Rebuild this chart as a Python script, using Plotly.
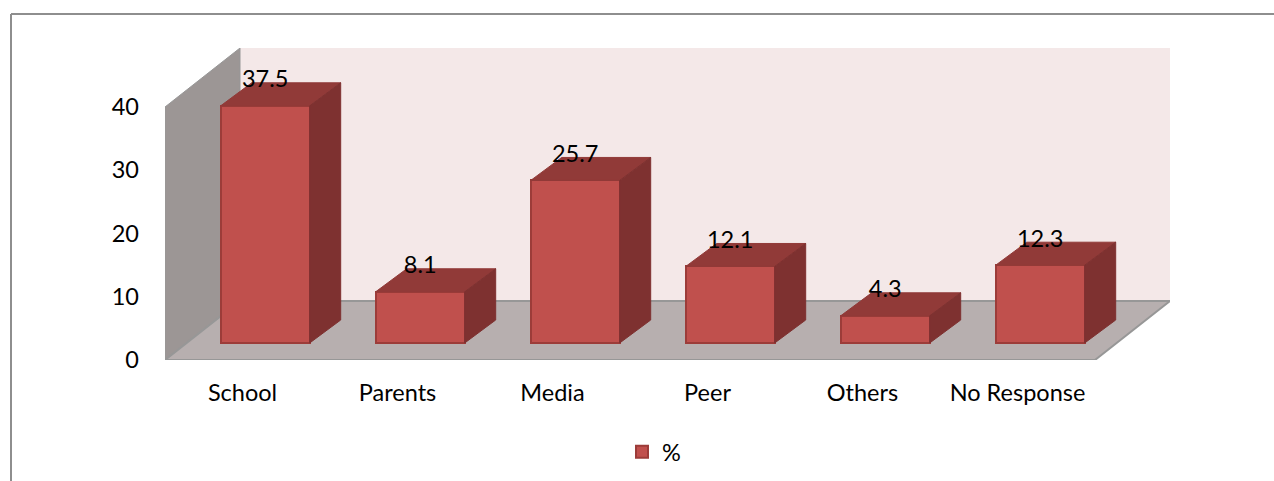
import plotly.graph_objects as go

categories = ["School", "Parents", "Media", "Peer", "Others", "No Response"]
values = [37.5, 8.1, 25.7, 12.1, 4.3, 12.3]
y_ticks = [0, 10, 20, 30, 40]
series_name = "%"

W, H = 1274, 481
L, R, T, B = 165, 1170, 48, 360
CAT_PX = 155.0
UNIT_PX = 6.325
FONT = dict(family="Lato, Carlito, Calibri, sans-serif", size=23.5, color="#000000")

x0 = -0.5
x_front_end = x0 + len(categories)
wall_dx = 75 / CAT_PX
wall_dy = 59 / UNIT_PX
ymax = y_ticks[-1]
bar_w = 89 / CAT_PX
bar_off_x = 22.7 / CAT_PX
bar_off_y = 17 / UNIT_PX
depth_x = 31 / CAT_PX
depth_y = 23 / UNIT_PX
label_up = 24.5 / UNIT_PX

FRONT, TOP, SIDE = "#c0504d", "#913a38", "#7e3130"
EDGE = "#9c3c39"
GRAY = "#979797"


def poly(points, fill, line="rgba(0,0,0,0)", width=0):
    path = "M " + " L ".join(f"{a},{b}" for a, b in points) + " Z"
    return dict(type="path", xref="x", yref="y", path=path, fillcolor=fill,
                line=dict(color=line, width=width), layer="below")


shapes = [
    poly([(x0 + wall_dx, wall_dy), (x_front_end + wall_dx, wall_dy),
          (x_front_end + wall_dx, ymax + wall_dy), (x0 + wall_dx, ymax + wall_dy)], "#f4e8e8"),
    poly([(x0, 0), (x0, ymax), (x0 + wall_dx, ymax + wall_dy), (x0 + wall_dx, wall_dy)],
         "#9c9695", GRAY, 1),
    poly([(x0, 0), (x_front_end, 0), (x_front_end + wall_dx, wall_dy), (x0 + wall_dx, wall_dy)],
         "#b7afaf", GRAY, 2),
    dict(type="line", xref="paper", yref="paper", x0=(11 - L) / (R - L), x1=(W + 5 - L) / (R - L),
         y0=(B - 14) / (B - T), y1=(B - 14) / (B - T), line=dict(color="#8e8e8e", width=2)),
    dict(type="line", xref="paper", yref="paper", x0=(11 - L) / (R - L), x1=(11 - L) / (R - L),
         y0=(B - 14) / (B - T), y1=(B - H - 5) / (B - T), line=dict(color="#8e8e8e", width=2)),
]

fig = go.Figure()
fig.add_trace(go.Bar(
    x=[i + bar_off_x for i in range(len(values))], y=values, base=bar_off_y, width=bar_w,
    name=series_name, showlegend=True,
    marker=dict(color=FRONT, line=dict(color=EDGE, width=2)), hoverinfo="skip",
))

for i, v in enumerate(values):
    xl = i - bar_w / 2 + bar_off_x
    xr = i + bar_w / 2 + bar_off_x
    yb = bar_off_y
    yt = bar_off_y + v
    fig.add_trace(go.Scatter(
        x=[xl, xr, xr + depth_x, xl + depth_x, xl],
        y=[yt, yt, yt + depth_y, yt + depth_y, yt],
        mode="lines", fill="toself", fillcolor=TOP, line=dict(color=TOP, width=1),
        showlegend=False, hoverinfo="skip"))
    fig.add_trace(go.Scatter(
        x=[xr, xr + depth_x, xr + depth_x, xr, xr],
        y=[yb, yb + depth_y, yt + depth_y, yt, yb],
        mode="lines", fill="toself", fillcolor=SIDE, line=dict(color=SIDE, width=1),
        showlegend=False, hoverinfo="skip"))

fig.add_trace(go.Scatter(
    x=[i + bar_off_x for i in range(len(values))],
    y=[v + bar_off_y + label_up for v in values],
    mode="text", text=[str(v) for v in values], textposition="middle center",
    textfont=FONT, showlegend=False, hoverinfo="skip", cliponaxis=False))

fig.update_layout(
    width=W, height=H, autosize=False,
    margin=dict(l=L, r=W - R, t=T, b=H - B, pad=0, autoexpand=False),
    paper_bgcolor="white", plot_bgcolor="rgba(0,0,0,0)",
    font=FONT, shapes=shapes, bargap=0,
    xaxis=dict(range=[x0, x0 + (R - L) / CAT_PX], tickmode="array",
               tickvals=list(range(len(categories))), ticktext=categories,
               showgrid=False, zeroline=False, showline=False, ticks="",
               ticklabelstandoff=16, tickfont=FONT, tickangle=0, automargin=False),
    yaxis=dict(range=[0, (B - T) / UNIT_PX], tickmode="array", tickvals=y_ticks,
               showgrid=False, zeroline=False, showline=False, ticks="",
               ticklabelstandoff=25, tickfont=FONT, automargin=False),
    legend=dict(x=(622 - L) / (R - L), y=(B - 452) / (B - T), xanchor="left", yanchor="middle",
                bgcolor="rgba(0,0,0,0)", font=FONT, itemwidth=30, tracegroupgap=0),
)

fig.write_html("out.html", config=dict(displayModeBar=False),
               post_script="document.body.style.margin='0';document.documentElement.style.overflow='hidden';")
